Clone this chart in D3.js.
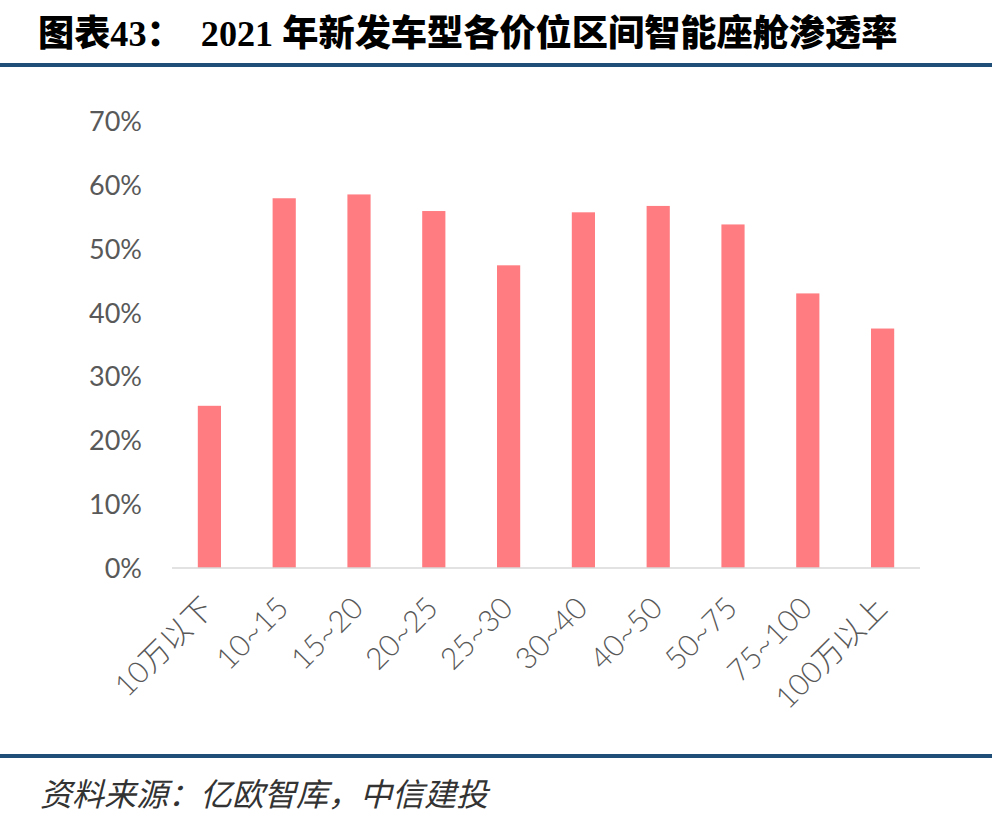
<!DOCTYPE html>
<html><head><meta charset="utf-8">
<script src="https://cdn.jsdelivr.net/npm/d3@7"></script>
<style>body{margin:0;background:#fff;}svg{display:block;}</style>
</head><body>
<script>
const categories = ["10万以下","10~15","15~20","20~25","25~30","30~40","40~50","50~75","75~100","100万以上"];
const values = [0.254, 0.579, 0.585, 0.559, 0.474, 0.557, 0.567, 0.538, 0.430, 0.375];
const yTicks = [0, 0.1, 0.2, 0.3, 0.4, 0.5, 0.6, 0.7];
const titleText = "图表43：  2021 年新发车型各价位区间智能座舱渗透率";
const sourceText = "资料来源：亿欧智库，中信建投";

const W = 1000, H = 839;
const svg = d3.select("body").append("svg").attr("width", W).attr("height", H);
svg.append("rect").attr("width", W).attr("height", H).attr("fill", "#fff");

svg.append("text").attr("x", 38).attr("y", 46)
  .attr("font-family", "'Liberation Serif','Noto Sans CJK SC',serif")
  .attr("font-weight", "900").attr("font-size", 36.2).attr("fill", "#000")
  .attr("xml:space", "preserve").style("white-space", "pre")
  .text(titleText);

svg.append("rect").attr("x", 0).attr("y", 63).attr("width", 992).attr("height", 4).attr("fill", "#1f4e79");
svg.append("rect").attr("x", 0).attr("y", 754).attr("width", 992).attr("height", 4).attr("fill", "#1f4e79");

const x = d3.scaleBand().domain(categories).range([172, 920]).paddingInner(0.69).paddingOuter(0.345);
const y = d3.scaleLinear().domain([0, 0.7]).range([568, 121]);

const g = svg.append("g");
g.selectAll("rect.bar").data(values).join("rect").attr("class", "bar")
  .attr("x", (d, i) => x(categories[i])).attr("width", x.bandwidth())
  .attr("y", d => y(d)).attr("height", d => y(0) - y(d))
  .attr("fill", "#ff7c80");

g.append("line").attr("x1", 172).attr("x2", 920).attr("y1", y(0)).attr("y2", y(0))
  .attr("stroke", "#d9d9d9").attr("stroke-width", 1.5);

const yAxis = d3.axisLeft(y).tickValues(yTicks).tickFormat(d3.format(".0%")).tickSize(0).tickPadding(0);
const ya = svg.append("g").attr("transform", "translate(142,0)").call(yAxis);
ya.select(".domain").remove();
ya.selectAll("text").attr("font-family", "Lato, 'Open Sans', sans-serif").attr("font-size", 27)
  .attr("fill", "#595959").attr("dy", "0.35em");

const xAxis = d3.axisBottom(x).tickSize(0).tickPadding(0);
const xa = svg.append("g").attr("transform", `translate(0,${y(0)})`).call(xAxis);
xa.select(".domain").remove();
xa.selectAll("text")
  .attr("font-family", "Lato, 'Noto Sans CJK SC', sans-serif").attr("font-size", 30)
  .attr("font-weight", 300)
  .attr("fill", "#595959")
  .attr("text-anchor", "end").attr("dy", 0).attr("y", 0)
  .attr("transform", "translate(6,42) rotate(-45)");

svg.append("text").attr("x", 40).attr("y", 806)
  .attr("font-family", "'Noto Sans CJK SC', sans-serif").attr("font-style", "italic")
  .attr("font-size", 32).attr("fill", "#333")
  .text(sourceText);
</script>
</body></html>
